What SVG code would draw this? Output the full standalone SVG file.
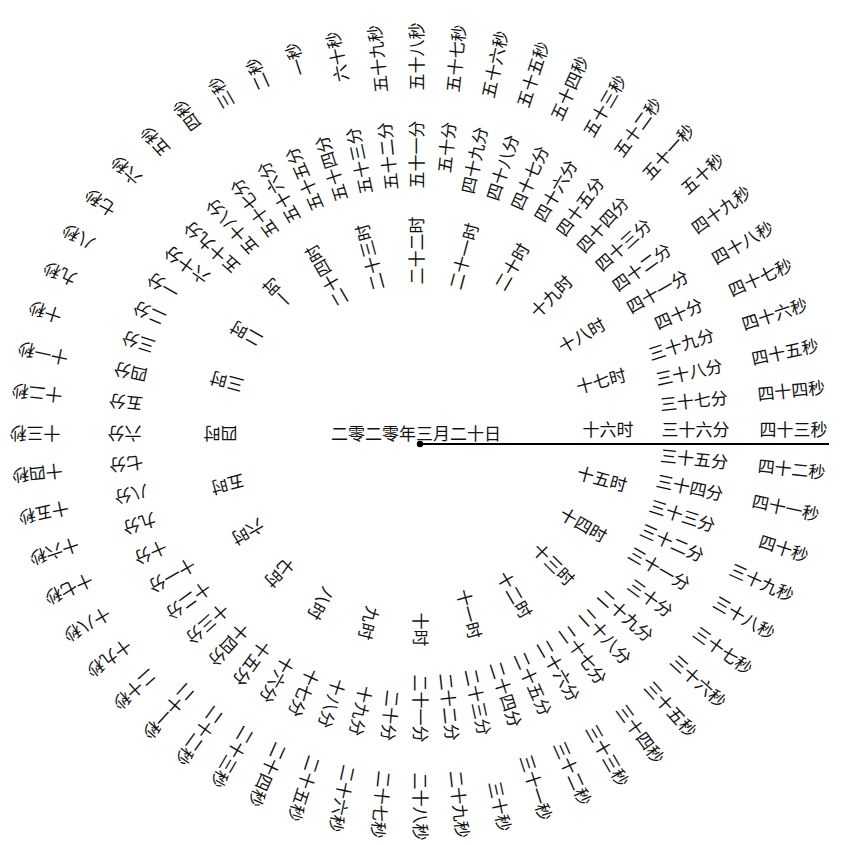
<svg xmlns="http://www.w3.org/2000/svg" width="843" height="845" viewBox="0 0 843 845">
<style>
.t{font-family:"Noto Sans CJK SC","Noto Sans",sans-serif;font-size:17px;fill:#111;text-anchor:end}
.d{font-family:"Noto Sans CJK SC","Noto Sans",sans-serif;font-size:17px;fill:#111;text-anchor:middle}
</style>
<rect width="843" height="845" fill="#fff"/>
<g id="connectors">
<line x1="420" y1="444" x2="829" y2="444" stroke="#000" stroke-width="2"/>
<circle cx="420" cy="444" r="3.2" fill="#000"/>
</g>
<g id="date"><text class="d" x="416" y="440">二零二零年三月二十日</text></g>
<g id="clock" transform="translate(418.5,431.5)">
<g id="hours">
<text class="t" x="215" y="4.8" transform="rotate(225)">一时</text>
<text class="t" x="215" y="4.8" transform="rotate(210)">二时</text>
<text class="t" x="215" y="4.8" transform="rotate(195)">三时</text>
<text class="t" x="215" y="4.8" transform="rotate(180)">四时</text>
<text class="t" x="215" y="4.8" transform="rotate(165)">五时</text>
<text class="t" x="215" y="4.8" transform="rotate(150)">六时</text>
<text class="t" x="215" y="4.8" transform="rotate(135)">七时</text>
<text class="t" x="215" y="4.8" transform="rotate(120)">八时</text>
<text class="t" x="215" y="4.8" transform="rotate(105)">九时</text>
<text class="t" x="215" y="4.8" transform="rotate(90)">十时</text>
<text class="t" x="215" y="4.8" transform="rotate(75)">十一时</text>
<text class="t" x="215" y="4.8" transform="rotate(60)">十二时</text>
<text class="t" x="215" y="4.8" transform="rotate(45)">十三时</text>
<text class="t" x="215" y="4.8" transform="rotate(30)">十四时</text>
<text class="t" x="215" y="4.8" transform="rotate(15)">十五时</text>
<text class="t" x="215" y="4.8" transform="rotate(0)">十六时</text>
<text class="t" x="215" y="4.8" transform="rotate(-15)">十七时</text>
<text class="t" x="215" y="4.8" transform="rotate(-30)">十八时</text>
<text class="t" x="215" y="4.8" transform="rotate(-45)">十九时</text>
<text class="t" x="215" y="4.8" transform="rotate(-60)">二十时</text>
<text class="t" x="215" y="4.8" transform="rotate(-75)">二十一时</text>
<text class="t" x="215" y="4.8" transform="rotate(-90)">二十二时</text>
<text class="t" x="215" y="4.8" transform="rotate(-105)">二十三时</text>
<text class="t" x="215" y="4.8" transform="rotate(-120)">二十四时</text>
</g>
<g id="minutes">
<text class="t" x="311" y="4.8" transform="rotate(210)">一分</text>
<text class="t" x="311" y="4.8" transform="rotate(204)">二分</text>
<text class="t" x="311" y="4.8" transform="rotate(198)">三分</text>
<text class="t" x="311" y="4.8" transform="rotate(192)">四分</text>
<text class="t" x="311" y="4.8" transform="rotate(186)">五分</text>
<text class="t" x="311" y="4.8" transform="rotate(180)">六分</text>
<text class="t" x="311" y="4.8" transform="rotate(174)">七分</text>
<text class="t" x="311" y="4.8" transform="rotate(168)">八分</text>
<text class="t" x="311" y="4.8" transform="rotate(162)">九分</text>
<text class="t" x="311" y="4.8" transform="rotate(156)">十分</text>
<text class="t" x="311" y="4.8" transform="rotate(150)">十一分</text>
<text class="t" x="311" y="4.8" transform="rotate(144)">十二分</text>
<text class="t" x="311" y="4.8" transform="rotate(138)">十三分</text>
<text class="t" x="311" y="4.8" transform="rotate(132)">十四分</text>
<text class="t" x="311" y="4.8" transform="rotate(126)">十五分</text>
<text class="t" x="311" y="4.8" transform="rotate(120)">十六分</text>
<text class="t" x="311" y="4.8" transform="rotate(114)">十七分</text>
<text class="t" x="311" y="4.8" transform="rotate(108)">十八分</text>
<text class="t" x="311" y="4.8" transform="rotate(102)">十九分</text>
<text class="t" x="311" y="4.8" transform="rotate(96)">二十分</text>
<text class="t" x="311" y="4.8" transform="rotate(90)">二十一分</text>
<text class="t" x="311" y="4.8" transform="rotate(84)">二十二分</text>
<text class="t" x="311" y="4.8" transform="rotate(78)">二十三分</text>
<text class="t" x="311" y="4.8" transform="rotate(72)">二十四分</text>
<text class="t" x="311" y="4.8" transform="rotate(66)">二十五分</text>
<text class="t" x="311" y="4.8" transform="rotate(60)">二十六分</text>
<text class="t" x="311" y="4.8" transform="rotate(54)">二十七分</text>
<text class="t" x="311" y="4.8" transform="rotate(48)">二十八分</text>
<text class="t" x="311" y="4.8" transform="rotate(42)">二十九分</text>
<text class="t" x="311" y="4.8" transform="rotate(36)">三十分</text>
<text class="t" x="311" y="4.8" transform="rotate(30)">三十一分</text>
<text class="t" x="311" y="4.8" transform="rotate(24)">三十二分</text>
<text class="t" x="311" y="4.8" transform="rotate(18)">三十三分</text>
<text class="t" x="311" y="4.8" transform="rotate(12)">三十四分</text>
<text class="t" x="311" y="4.8" transform="rotate(6)">三十五分</text>
<text class="t" x="311" y="4.8" transform="rotate(0)">三十六分</text>
<text class="t" x="311" y="4.8" transform="rotate(-6)">三十七分</text>
<text class="t" x="311" y="4.8" transform="rotate(-12)">三十八分</text>
<text class="t" x="311" y="4.8" transform="rotate(-18)">三十九分</text>
<text class="t" x="311" y="4.8" transform="rotate(-24)">四十分</text>
<text class="t" x="311" y="4.8" transform="rotate(-30)">四十一分</text>
<text class="t" x="311" y="4.8" transform="rotate(-36)">四十二分</text>
<text class="t" x="311" y="4.8" transform="rotate(-42)">四十三分</text>
<text class="t" x="311" y="4.8" transform="rotate(-48)">四十四分</text>
<text class="t" x="311" y="4.8" transform="rotate(-54)">四十五分</text>
<text class="t" x="311" y="4.8" transform="rotate(-60)">四十六分</text>
<text class="t" x="311" y="4.8" transform="rotate(-66)">四十七分</text>
<text class="t" x="311" y="4.8" transform="rotate(-72)">四十八分</text>
<text class="t" x="311" y="4.8" transform="rotate(-78)">四十九分</text>
<text class="t" x="311" y="4.8" transform="rotate(-84)">五十分</text>
<text class="t" x="311" y="4.8" transform="rotate(-90)">五十一分</text>
<text class="t" x="311" y="4.8" transform="rotate(-96)">五十二分</text>
<text class="t" x="311" y="4.8" transform="rotate(-102)">五十三分</text>
<text class="t" x="311" y="4.8" transform="rotate(-108)">五十四分</text>
<text class="t" x="311" y="4.8" transform="rotate(-114)">五十五分</text>
<text class="t" x="311" y="4.8" transform="rotate(-120)">五十六分</text>
<text class="t" x="311" y="4.8" transform="rotate(-126)">五十七分</text>
<text class="t" x="311" y="4.8" transform="rotate(-132)">五十八分</text>
<text class="t" x="311" y="4.8" transform="rotate(-138)">五十九分</text>
<text class="t" x="311" y="4.8" transform="rotate(-144)">六十分</text>
</g>
<g id="seconds">
<text class="t" x="409" y="4.8" transform="rotate(252)">一秒</text>
<text class="t" x="409" y="4.8" transform="rotate(246)">二秒</text>
<text class="t" x="409" y="4.8" transform="rotate(240)">三秒</text>
<text class="t" x="409" y="4.8" transform="rotate(234)">四秒</text>
<text class="t" x="409" y="4.8" transform="rotate(228)">五秒</text>
<text class="t" x="409" y="4.8" transform="rotate(222)">六秒</text>
<text class="t" x="409" y="4.8" transform="rotate(216)">七秒</text>
<text class="t" x="409" y="4.8" transform="rotate(210)">八秒</text>
<text class="t" x="409" y="4.8" transform="rotate(204)">九秒</text>
<text class="t" x="409" y="4.8" transform="rotate(198)">十秒</text>
<text class="t" x="409" y="4.8" transform="rotate(192)">十一秒</text>
<text class="t" x="409" y="4.8" transform="rotate(186)">十二秒</text>
<text class="t" x="409" y="4.8" transform="rotate(180)">十三秒</text>
<text class="t" x="409" y="4.8" transform="rotate(174)">十四秒</text>
<text class="t" x="409" y="4.8" transform="rotate(168)">十五秒</text>
<text class="t" x="409" y="4.8" transform="rotate(162)">十六秒</text>
<text class="t" x="409" y="4.8" transform="rotate(156)">十七秒</text>
<text class="t" x="409" y="4.8" transform="rotate(150)">十八秒</text>
<text class="t" x="409" y="4.8" transform="rotate(144)">十九秒</text>
<text class="t" x="409" y="4.8" transform="rotate(138)">二十秒</text>
<text class="t" x="409" y="4.8" transform="rotate(132)">二十一秒</text>
<text class="t" x="409" y="4.8" transform="rotate(126)">二十二秒</text>
<text class="t" x="409" y="4.8" transform="rotate(120)">二十三秒</text>
<text class="t" x="409" y="4.8" transform="rotate(114)">二十四秒</text>
<text class="t" x="409" y="4.8" transform="rotate(108)">二十五秒</text>
<text class="t" x="409" y="4.8" transform="rotate(102)">二十六秒</text>
<text class="t" x="409" y="4.8" transform="rotate(96)">二十七秒</text>
<text class="t" x="409" y="4.8" transform="rotate(90)">二十八秒</text>
<text class="t" x="409" y="4.8" transform="rotate(84)">二十九秒</text>
<text class="t" x="409" y="4.8" transform="rotate(78)">三十秒</text>
<text class="t" x="409" y="4.8" transform="rotate(72)">三十一秒</text>
<text class="t" x="409" y="4.8" transform="rotate(66)">三十二秒</text>
<text class="t" x="409" y="4.8" transform="rotate(60)">三十三秒</text>
<text class="t" x="409" y="4.8" transform="rotate(54)">三十四秒</text>
<text class="t" x="409" y="4.8" transform="rotate(48)">三十五秒</text>
<text class="t" x="409" y="4.8" transform="rotate(42)">三十六秒</text>
<text class="t" x="409" y="4.8" transform="rotate(36)">三十七秒</text>
<text class="t" x="409" y="4.8" transform="rotate(30)">三十八秒</text>
<text class="t" x="409" y="4.8" transform="rotate(24)">三十九秒</text>
<text class="t" x="409" y="4.8" transform="rotate(18)">四十秒</text>
<text class="t" x="409" y="4.8" transform="rotate(12)">四十一秒</text>
<text class="t" x="409" y="4.8" transform="rotate(6)">四十二秒</text>
<text class="t" x="409" y="4.8" transform="rotate(0)">四十三秒</text>
<text class="t" x="409" y="4.8" transform="rotate(-6)">四十四秒</text>
<text class="t" x="409" y="4.8" transform="rotate(-12)">四十五秒</text>
<text class="t" x="409" y="4.8" transform="rotate(-18)">四十六秒</text>
<text class="t" x="409" y="4.8" transform="rotate(-24)">四十七秒</text>
<text class="t" x="409" y="4.8" transform="rotate(-30)">四十八秒</text>
<text class="t" x="409" y="4.8" transform="rotate(-36)">四十九秒</text>
<text class="t" x="409" y="4.8" transform="rotate(-42)">五十秒</text>
<text class="t" x="409" y="4.8" transform="rotate(-48)">五十一秒</text>
<text class="t" x="409" y="4.8" transform="rotate(-54)">五十二秒</text>
<text class="t" x="409" y="4.8" transform="rotate(-60)">五十三秒</text>
<text class="t" x="409" y="4.8" transform="rotate(-66)">五十四秒</text>
<text class="t" x="409" y="4.8" transform="rotate(-72)">五十五秒</text>
<text class="t" x="409" y="4.8" transform="rotate(-78)">五十六秒</text>
<text class="t" x="409" y="4.8" transform="rotate(-84)">五十七秒</text>
<text class="t" x="409" y="4.8" transform="rotate(-90)">五十八秒</text>
<text class="t" x="409" y="4.8" transform="rotate(-96)">五十九秒</text>
<text class="t" x="409" y="4.8" transform="rotate(-102)">六十秒</text>
</g>
</g>
</svg>
